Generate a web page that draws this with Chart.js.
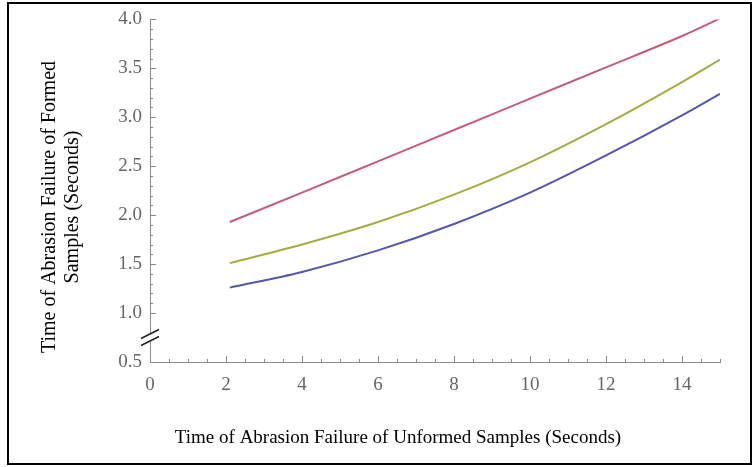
<!DOCTYPE html>
<html>
<head>
<meta charset="utf-8">
<script src="https://cdn.jsdelivr.net/npm/chart.js@4/dist/chart.umd.min.js"></script>
<style>
  html, body { margin: 0; padding: 0; background: #fff; }
  #wrap { position: relative; width: 754px; height: 467px; }
  #frame { position: absolute; left: 7px; top: 2px; width: 741px; height: 459px; border: 2px solid #000; pointer-events: none; }
</style>
</head>
<body>
<div id="wrap">
  <canvas id="abrasionChart" width="754" height="467"></canvas>
  <div id="frame"></div>
</div>
<script>
// unformed failure time (s) on x, formed failure time (s) on y
const unformedTimes = [2.1, 4, 6, 8, 10, 12, 14, 15];
const upperCurve = [1.93, 2.23, 2.55, 2.87, 3.19, 3.51, 3.83, 4.01];
const middleCurve = [1.51, 1.70, 1.93, 2.21, 2.54, 2.93, 3.36, 3.59];
const lowerCurve = [1.26, 1.42, 1.64, 1.91, 2.23, 2.61, 3.02, 3.24];
const xTicks = [0, 2, 4, 6, 8, 10, 12, 14];
const yTicks = [0.5, 1.0, 1.5, 2.0, 2.5, 3.0, 3.5, 4.0];

const xTitle = 'Time of Abrasion Failure of Unformed Samples (Seconds)';
const yTitle = ['Time of Abrasion Failure of Formed', 'Samples (Seconds)'];

const serif = '"Liberation Serif", "DejaVu Serif", serif';

function toPoints(ys) {
    return unformedTimes.map((x, i) => ({ x: x, y: ys[i] }));
}

function series(ys, color) {
    return {
        data: toPoints(ys),
        borderColor: color,
        borderWidth: 2,
        pointRadius: 0,
        fill: false,
        showLine: true,
        cubicInterpolationMode: 'monotone'
    };
}

// inward tick marks, axis break and axis titles
const decorations = {
    id: 'decorations',
    afterDraw(chart) {
        const ctx = chart.ctx;
        const xs = chart.scales.x;
        const ys = chart.scales.y;
        const left = chart.chartArea.left;
        const bottom = chart.chartArea.bottom;

        ctx.save();
        ctx.strokeStyle = '#8a8a8a';
        ctx.lineWidth = 1;
        ctx.beginPath();
        for (let v = 0.5; v <= 15.001; v += 0.5) {
            const px = Math.round(xs.getPixelForValue(v)) + 0.5;
            const len = (Math.abs(v % 2) < 0.01) ? 6 : 3;
            ctx.moveTo(px, bottom);
            ctx.lineTo(px, bottom - len);
        }
        for (let v = 1.0; v <= 4.001; v += 0.1) {
            const py = Math.round(ys.getPixelForValue(v)) + 0.5;
            const major = Math.abs((v * 2) - Math.round(v * 2)) < 0.01;
            ctx.moveTo(left, py);
            ctx.lineTo(left + (major ? 6 : 3), py);
        }
        ctx.stroke();

        // break on the y axis
        const by = ys.getPixelForValue(0.75);
        ctx.fillStyle = '#fff';
        ctx.fillRect(left - 2, by - 4, 5, 8);
        ctx.strokeStyle = '#222';
        ctx.lineWidth = 1.5;
        ctx.beginPath();
        ctx.moveTo(left - 9, by + 1);
        ctx.lineTo(left + 9, by - 8);
        ctx.moveTo(left - 9, by + 8);
        ctx.lineTo(left + 9, by - 1);
        ctx.stroke();

        // titles
        ctx.fillStyle = '#000';
        ctx.textAlign = 'center';
        ctx.textBaseline = 'middle';
        ctx.font = '19px ' + serif;
        ctx.fillText(xTitle, 398, 438);
        ctx.font = '20px ' + serif;
        ctx.translate(61, 207);
        ctx.rotate(-Math.PI / 2);
        ctx.fillText(yTitle[0], 0, -11);
        ctx.fillText(yTitle[1], 0, 12);
        ctx.restore();
    }
};

new Chart(document.getElementById('abrasionChart'), {
    type: 'scatter',
    data: {
        datasets: [
            series(upperCurve, '#c65c78'),
            series(middleCurve, '#a4ac42'),
            series(lowerCurve, '#5656ae')
        ]
    },
    options: {
        responsive: false,
        animation: false,
        layout: { padding: { left: 0, top: 15, right: 34, bottom: 0 } },
        plugins: {
            legend: { display: false },
            tooltip: { enabled: false }
        },
        scales: {
            x: {
                type: 'linear',
                min: 0,
                max: 15,
                afterBuildTicks: scale => { scale.ticks = xTicks.map(v => ({ value: v })); },
                afterFit: scale => { scale.height = 105; },
                grid: { display: false, drawTicks: false },
                border: { display: true, color: '#8a8a8a', width: 1 },
                ticks: {
                    padding: 12,
                    color: '#666',
                    font: { family: serif, size: 19 }
                }
            },
            y: {
                type: 'linear',
                min: 0.5,
                max: 4.0,
                afterBuildTicks: scale => { scale.ticks = yTicks.map(v => ({ value: v })); },
                afterFit: scale => { scale.width = 150; },
                grid: { display: false, drawTicks: false },
                border: { display: true, color: '#8a8a8a', width: 1 },
                ticks: {
                    padding: 8,
                    color: '#666',
                    font: { family: serif, size: 19 },
                    callback: v => v.toFixed(1)
                }
            }
        }
    },
    plugins: [decorations]
});
</script>
</body>
</html>
